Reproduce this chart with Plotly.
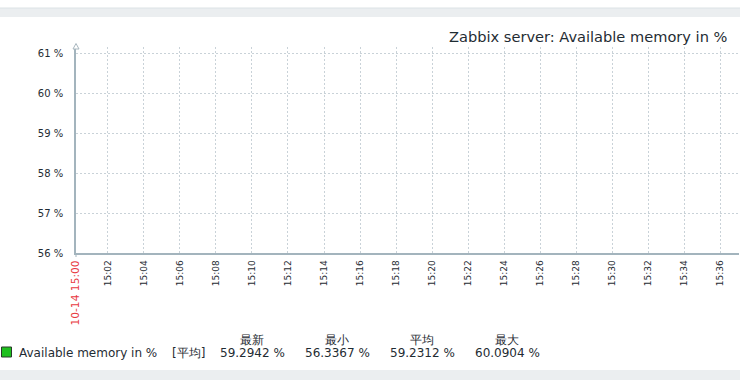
import plotly.graph_objects as go
import pandas as pd

# ---- data ----
title_text = "Zabbix server: Available memory in %"
series_name = "Available memory in %"
func_label = "[平均]"
stat_headers = ["最新", "最小", "平均", "最大"]
stat_values = [59.2942, 56.3367, 59.2312, 60.0904]
y_ticks = [56, 57, 58, 59, 60, 61]
x_start = "2024-10-14 15:00:14"
x_end = "2024-10-14 15:37:02"
x_grid = list(pd.date_range("2024-10-14 15:02", "2024-10-14 15:36", freq="2min"))
x_start_label = "10-14 15:00"
x_grid_labels = [t.strftime("%H:%M") for t in x_grid]
# no data points were drawn in the reference graph
data_x = []
data_y = []

W, H = 740, 380
L, R, T, B = 76, 1, 47, 127
PW, PH = W - L - R, H - T - B
FONT = "DejaVu Sans"
TXT = "#1f2c33"
GRID = "#c9d2d8"
AXIS = "#a3b4bd"


def px(x):
    return (x - L) / PW


def py(y):
    return (H - B - y) / PH


tickvals = [pd.Timestamp(x_start)] + x_grid
ticktext = [f"<span style='color:#e8393f;font-size:10.7px'>{x_start_label}</span>"] + x_grid_labels

fig = go.Figure()
fig.add_trace(go.Scatter(x=data_x, y=data_y, mode="lines", line=dict(color="#1fb81f"),
                         name=series_name, showlegend=False))

fig.update_layout(
    width=W, height=H,
    margin=dict(l=L, r=R, t=T, b=B, pad=0),
    paper_bgcolor="white", plot_bgcolor="white",
    font=dict(family=FONT, color=TXT),
    showlegend=False,
    xaxis=dict(
        type="date", range=[x_start, x_end],
        tickvals=tickvals, ticktext=ticktext, tickangle=-90,
        tickfont=dict(size=9, color=TXT, family=FONT),
        showgrid=True, gridcolor=GRID, griddash="2px,2px", gridwidth=1,
        showline=True, linecolor=AXIS, linewidth=1.5,
        zeroline=False, ticks="", ticklabelstandoff=2,
    ),
    yaxis=dict(
        range=[56, 61.15], tickvals=y_ticks, ticktext=[f"{v} %" for v in y_ticks],
        tickfont=dict(size=10, color=TXT, family=FONT),
        showgrid=True, gridcolor=GRID, griddash="2px,2px", gridwidth=1,
        showline=True, linecolor=AXIS, linewidth=1.5,
        zeroline=False, ticks="", ticklabelstandoff=9,
    ),
)

shapes = [
    # top gray band
    dict(type="rect", xref="paper", yref="paper", x0=px(0), x1=px(W), y0=py(17), y1=py(8),
         fillcolor="#ebeef0", line=dict(width=0), layer="below"),
    dict(type="line", xref="paper", yref="paper", x0=px(0), x1=px(W), y0=py(8), y1=py(8),
         line=dict(color="#dce2e5", width=1)),
    # bottom gray band
    dict(type="rect", xref="paper", yref="paper", x0=px(0), x1=px(W), y0=py(380), y1=py(370),
         fillcolor="#ebeef0", line=dict(width=0), layer="below"),
    # y axis arrow
    dict(type="path", xref="paper", yref="paper",
         path=f"M {px(73)} {py(49)} L {px(76)} {py(43.5)} L {px(79)} {py(49)} Z",
         fillcolor="white", line=dict(color="#a9b7bf", width=1)),
    # small tick below axis at start
    dict(type="line", xref="paper", yref="paper", x0=0, x1=0, y0=py(253), y1=py(257),
         line=dict(color=AXIS, width=1)),
    # legend swatch
    dict(type="rect", xref="paper", yref="paper", x0=px(1.5), x1=px(11.5), y0=py(357), y1=py(347),
         fillcolor="#1ec01e", line=dict(color="#2a3a2a", width=1)),
]
fig.update_layout(shapes=shapes)

ann = [
    dict(text=title_text, x=px(730), y=py(36), xanchor="right", yanchor="middle",
         font=dict(size=14.6, color=TXT, family=FONT)),
    dict(text=series_name, x=px(16.5), y=py(352.5), xanchor="left", yanchor="middle",
         font=dict(size=12, color=TXT, family=FONT)),
    dict(text=func_label, x=px(188), y=py(352.5), xanchor="center", yanchor="middle",
         font=dict(size=12, color=TXT, family=FONT)),
]
centers = [252, 337, 422, 507]
for c, h, v in zip(centers, stat_headers, stat_values):
    ann.append(dict(text=h, x=px(c), y=py(340), xanchor="center", yanchor="middle",
                    font=dict(size=12, color=TXT, family=FONT)))
    ann.append(dict(text=f"{v:.4f} %", x=px(c), y=py(352.5), xanchor="center", yanchor="middle",
                    font=dict(size=12, color=TXT, family=FONT)))
for a in ann:
    a.update(xref="paper", yref="paper", showarrow=False)
fig.update_layout(annotations=ann)

fig.write_html("out.html")
